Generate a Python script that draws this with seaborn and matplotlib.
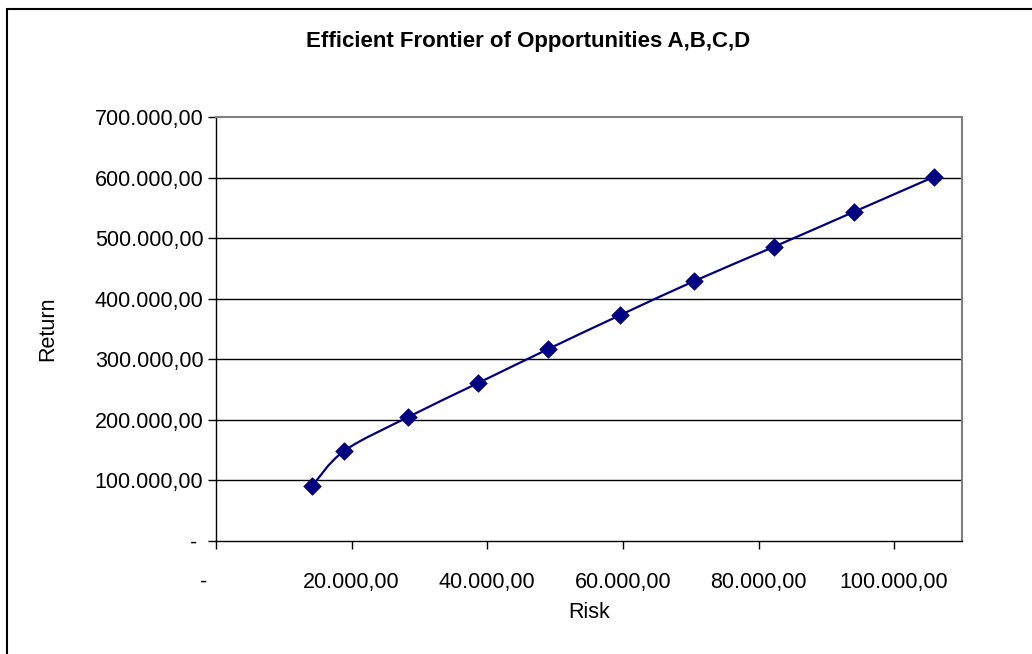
import numpy as np
import pandas as pd
import matplotlib
matplotlib.use("Agg")
import matplotlib.pyplot as plt
from matplotlib.path import Path
from matplotlib.patches import PathPatch, Rectangle
from matplotlib.ticker import FuncFormatter, MultipleLocator
import seaborn as sns

# Portfolio risk / return pairs along the efficient frontier
risk = [14170, 18890, 28340, 38670, 49000, 59630, 70550, 82210, 94020, 105830]
ret = [90800, 148600, 204700, 260900, 317000, 373100, 429300, 485400, 543200, 601000]

title = "Efficient Frontier of Opportunities A,B,C,D"
x_label = "Risk"
y_label = "Return"

df = pd.DataFrame({"Risk": risk, "Return": ret})

sns.set_theme(style="white")
plt.rcParams["font.family"] = ["Liberation Sans", "DejaVu Sans"]

W, H = 1032, 654
FS = 15.5
fig = plt.figure(figsize=(W / 100, H / 100), dpi=100)
fig.patch.set_facecolor("white")

# outer chart frame
fig.patches.append(Rectangle((7 / W, -0.05), 1.2, (H - 9) / H + 0.05,
                             transform=fig.transFigure, fill=False,
                             edgecolor="black", linewidth=1.5, zorder=0))

ax = fig.add_axes([216 / W, (H - 541) / H, 746 / W, 424 / H])
ax.set_facecolor("white")

navy = "#000080"


def fmt(v, pos=None):
    if abs(v) < 1e-9:
        return "-"
    s = f"{v:,.2f}"
    return s.replace(",", "X").replace(".", ",").replace("X", ".")


def fmt_x(v, pos=None):
    s = fmt(v)
    return "-" + "\u2007" * 2 if s == "-" else s


def fmt_y(v, pos=None):
    s = fmt(v)
    return "- " if s == "-" else s


# smoothed line through the points (Catmull-Rom as cubic Beziers)
pts = np.column_stack([risk, ret]).astype(float)
ext = np.vstack([pts[0], pts, pts[-1]])
verts = [tuple(pts[0])]
codes = [Path.MOVETO]
for i in range(len(pts) - 1):
    p0, p1, p2, p3 = ext[i], ext[i + 1], ext[i + 2], ext[i + 3]
    c1 = p1 + (p2 - p0) / 6.0
    c2 = p2 - (p3 - p1) / 6.0
    verts += [tuple(c1), tuple(c2), tuple(p2)]
    codes += [Path.CURVE4] * 3
ax.add_patch(PathPatch(Path(verts, codes), facecolor="none",
                       edgecolor=navy, linewidth=1.6, zorder=3))

sns.scatterplot(data=df, x="Risk", y="Return", marker="D", s=80,
                color=navy, edgecolor=navy, linewidth=0.5, ax=ax, zorder=4)

ax.set_xlim(0, 110000)
ax.set_ylim(0, 700000)
ax.xaxis.set_major_locator(MultipleLocator(20000))
ax.yaxis.set_major_locator(MultipleLocator(100000))
ax.xaxis.set_major_formatter(FuncFormatter(fmt_x))
ax.yaxis.set_major_formatter(FuncFormatter(fmt_y))

for y in range(100000, 700000, 100000):
    ax.axhline(y, color="black", linewidth=1.0, zorder=1)

for side in ["top", "right"]:
    ax.spines[side].set_color("#808080")
    ax.spines[side].set_linewidth(1.5)
for side in ["left", "bottom"]:
    ax.spines[side].set_color("black")
    ax.spines[side].set_linewidth(1.0)

ax.tick_params(axis="both", which="major", direction="out", length=6,
               width=1, color="black", labelsize=FS, labelcolor="black",
               bottom=True, left=True)
ax.tick_params(axis="x", pad=16)
ax.tick_params(axis="y", pad=3)

ax.set_xlabel(x_label, fontsize=FS, color="black")
ax.set_ylabel(y_label, fontsize=FS, color="black")
ax.xaxis.label.set_va("center")
ax.yaxis.label.set_va("center")
ax.xaxis.set_label_coords(589 / W, 1 - 613 / H, transform=fig.transFigure)
ax.yaxis.set_label_coords(48 / W, 1 - 329 / H, transform=fig.transFigure)

fig.text(528 / W, 1 - 42 / H, title, ha="center", va="center",
         fontsize=16, fontweight="bold", color="black")

fig.savefig("out.png", dpi=100, facecolor="white")
